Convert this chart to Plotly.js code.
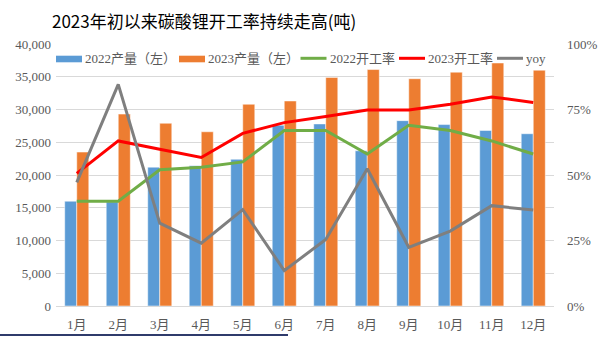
<!DOCTYPE html>
<html><head><meta charset="utf-8">
<script src="https://cdn.plot.ly/plotly-3.0.1.min.js"></script>
<style>html,body{margin:0;padding:0;background:#fff}#c{width:602px;height:337px}</style>
</head><body><div id="c"></div>
<script>
const months = ['1月','2月','3月','4月','5月','6月','7月','8月','9月','10月','11月','12月'];
const prod2022 = [16000,15900,21200,21400,22400,27600,27800,23700,28300,27700,26800,26300];
const prod2023 = [23500,29300,27900,26600,30800,31300,34900,36100,34700,35700,37100,36000];
const rate2022 = [0.40,0.40,0.52,0.53,0.55,0.67,0.67,0.58,0.69,0.67,0.63,0.58];
const rate2023 = [0.506,0.63,0.598,0.567,0.659,0.70,0.723,0.748,0.748,0.77,0.798,0.777];
const yoy = [0.472,0.846,0.316,0.24,0.368,0.135,0.254,0.524,0.224,0.286,0.383,0.366];
const leftTicks = [0,5000,10000,15000,20000,25000,30000,35000,40000];
const rightTicks = [0,0.25,0.5,0.75,1];
const seriesNames = ['2022产量（左）','2023产量（左）','2022开工率','2023开工率','yoy'];
const seriesColors = ['#5B9BD5','#ED7D31','#70AD47','#FF0000','#7F7F7F'];

const serif = '"Liberation Serif", "Noto Sans CJK SC", serif';
const tickFont = {family: serif, size: 13, color: '#595959'};

const traces = [
  {type:'bar', name:seriesNames[0], x:months, y:prod2022, marker:{color:seriesColors[0], line:{color:'#ffffff', width:0.5}}},
  {type:'bar', name:seriesNames[1], x:months, y:prod2023, marker:{color:seriesColors[1], line:{color:'#ffffff', width:0.5}}},
  {type:'scatter', mode:'lines', name:seriesNames[2], x:months, y:rate2022, yaxis:'y2', line:{color:seriesColors[2], width:3}},
  {type:'scatter', mode:'lines', name:seriesNames[3], x:months, y:rate2023, yaxis:'y2', line:{color:seriesColors[3], width:3}},
  {type:'scatter', mode:'lines', name:seriesNames[4], x:months, y:yoy, yaxis:'y2', line:{color:seriesColors[4], width:3}}
];

// custom legend (pixel layout -> paper coords)
const L = 56, W = 498, B = 306, H = 262;
const px = v => (v - L) / W, py = v => (B - v) / H;
const legStarts = [56, 179, 300.5, 399, 497];
const legSwatchW = 26;
const shapes = [];
const annotations = [];
seriesNames.forEach((n, i) => {
  const x0 = legStarts[i];
  if (i < 2) {
    shapes.push({type:'rect', xref:'paper', yref:'paper', x0:px(x0), x1:px(x0+legSwatchW), y0:py(62.3), y1:py(55.7),
                 fillcolor:seriesColors[i], line:{width:0}});
  } else {
    shapes.push({type:'line', xref:'paper', yref:'paper', x0:px(x0), x1:px(x0+legSwatchW), y0:py(58.3), y1:py(58.3),
                 line:{color:seriesColors[i], width:3}});
  }
  annotations.push({xref:'paper', yref:'paper', x:px(x0+legSwatchW+1), y:py(58.5), xanchor:'left', yanchor:'middle',
                    text:n, showarrow:false, font:{family:serif, size:13, color:'#595959'}});
});
shapes.push({type:'line', xref:'paper', yref:'paper', x0:px(0), x1:px(288), y0:py(335), y1:py(335),
             line:{color:'#2F3B6B', width:2}});

const layout = {
  width:602, height:337,
  margin:{l:L, r:602-L-W, t:B-H, b:337-B},
  paper_bgcolor:'#ffffff', plot_bgcolor:'#ffffff',
  barmode:'group', bargap:0.42, bargroupgap:0,
  title:{text:'2023年初以来碳酸锂开工率持续走高(吨)', x:52/602, xanchor:'left', y:1-22/337, yanchor:'middle',
         font:{family:'"Noto Sans CJK SC", sans-serif', size:17, color:'#000000'}},
  showlegend:false,
  xaxis:{tickfont:tickFont, showgrid:false, zeroline:false, showline:false, ticks:'', ticklabelstandoff:9},
  yaxis:{range:[0,40000], tickvals:leftTicks, tickformat:',d', tickfont:tickFont,
         showgrid:true, gridcolor:'#D9D9D9', gridwidth:1, zeroline:true, zerolinecolor:'#D9D9D9', zerolinewidth:1,
         showline:false, ticks:'', ticklabelstandoff:4},
  yaxis2:{range:[0,1], tickvals:rightTicks, tickformat:'.0%', tickfont:tickFont, overlaying:'y', side:'right',
          showgrid:false, zeroline:false, showline:false, ticks:'', ticklabelstandoff:12},
  shapes:shapes,
  annotations:annotations
};
Plotly.newPlot('c', traces, layout, {displayModeBar:false, staticPlot:true});
</script></body></html>
